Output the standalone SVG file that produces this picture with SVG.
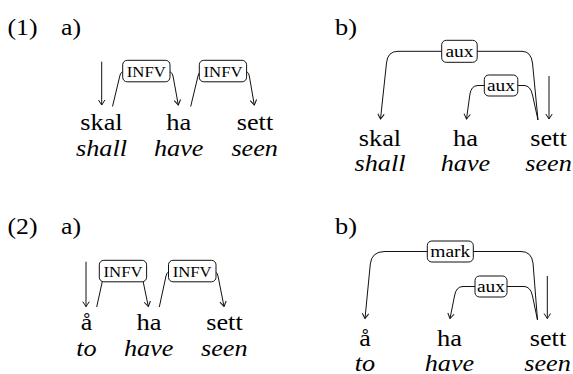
<svg xmlns="http://www.w3.org/2000/svg" width="573" height="374" viewBox="0 0 573 374" font-family="'Liberation Serif', 'Times New Roman', Tinos, Times, serif">
<defs>
<style>
.h, .w, .g, .lab, .lab2 { font-family: 'Liberation Serif', 'Times New Roman', Tinos, Times, serif; fill: #000; }
.h { font-size: 23px; }
.w { font-size: 23px; text-anchor: middle; }
.g { font-size: 23px; text-anchor: middle; font-style: italic; }
.lab { font-size: 15px; text-anchor: middle; }
.lab2 { font-size: 17.5px; text-anchor: middle; }
.e { fill: none; stroke: #111; stroke-width: 1; }
.box { fill: #fff; stroke: #111; stroke-width: 1; }
</style>
<marker id="ah" viewBox="-6 -4 7 8" refX="0" refY="0" markerWidth="7" markerHeight="8" markerUnits="userSpaceOnUse" orient="auto">
<path d="M-5,-3.2 Q-1.5,-1 0,0 Q-1.5,1 -5,3.2" fill="none" stroke="#111" stroke-width="1"/>
</marker>
</defs>

<g id="headings">
<text class="h" x="7.5" y="34.5" textLength="30" lengthAdjust="spacingAndGlyphs">(1)</text>
<text class="h" x="61" y="34.5" textLength="20" lengthAdjust="spacingAndGlyphs">a)</text>
<text class="h" x="335" y="34.5" textLength="22" lengthAdjust="spacingAndGlyphs">b)</text>
<text class="h" x="7.5" y="234" textLength="30" lengthAdjust="spacingAndGlyphs">(2)</text>
<text class="h" x="61" y="234" textLength="20" lengthAdjust="spacingAndGlyphs">a)</text>
<text class="h" x="335" y="234" textLength="22" lengthAdjust="spacingAndGlyphs">b)</text>
</g>

<!-- (1a) -->
<g id="n1a-skal"><text class="w" x="101.5" y="130" textLength="42.3" lengthAdjust="spacingAndGlyphs">skal</text><text class="g" x="101.5" y="155.5" textLength="51" lengthAdjust="spacingAndGlyphs">shall</text></g>
<g id="n1a-ha"><text class="w" x="178.7" y="130" textLength="25" lengthAdjust="spacingAndGlyphs">ha</text><text class="g" x="178.7" y="155.5" textLength="49.5" lengthAdjust="spacingAndGlyphs">have</text></g>
<g id="n1a-sett"><text class="w" x="255" y="130" textLength="36.4" lengthAdjust="spacingAndGlyphs">sett</text><text class="g" x="254.7" y="155.5" textLength="46.6" lengthAdjust="spacingAndGlyphs">seen</text></g>

<!-- (1b) -->
<g id="n1b-skal"><text class="w" x="380" y="145.5" textLength="42.3" lengthAdjust="spacingAndGlyphs">skal</text><text class="g" x="380" y="170.5" textLength="51" lengthAdjust="spacingAndGlyphs">shall</text></g>
<g id="n1b-ha"><text class="w" x="465.5" y="145.5" textLength="25" lengthAdjust="spacingAndGlyphs">ha</text><text class="g" x="465.5" y="170.5" textLength="49.5" lengthAdjust="spacingAndGlyphs">have</text></g>
<g id="n1b-sett"><text class="w" x="548.5" y="145.5" textLength="36.4" lengthAdjust="spacingAndGlyphs">sett</text><text class="g" x="548.5" y="170.5" textLength="46.6" lengthAdjust="spacingAndGlyphs">seen</text></g>

<!-- (2a) -->
<g id="n2a-aa"><text class="w" x="86.5" y="330" textLength="11.6" lengthAdjust="spacingAndGlyphs">å</text><text class="g" x="86.5" y="355.5" textLength="20.4" lengthAdjust="spacingAndGlyphs">to</text></g>
<g id="n2a-ha"><text class="w" x="149" y="330" textLength="25" lengthAdjust="spacingAndGlyphs">ha</text><text class="g" x="148.7" y="355.5" textLength="49.5" lengthAdjust="spacingAndGlyphs">have</text></g>
<g id="n2a-sett"><text class="w" x="224.5" y="330" textLength="36.4" lengthAdjust="spacingAndGlyphs">sett</text><text class="g" x="224.3" y="355.5" textLength="46.6" lengthAdjust="spacingAndGlyphs">seen</text></g>

<!-- (2b) -->
<g id="n2b-aa"><text class="w" x="365" y="345.5" textLength="11.6" lengthAdjust="spacingAndGlyphs">å</text><text class="g" x="365" y="370.5" textLength="20.4" lengthAdjust="spacingAndGlyphs">to</text></g>
<g id="n2b-ha"><text class="w" x="449.5" y="345.5" textLength="25" lengthAdjust="spacingAndGlyphs">ha</text><text class="g" x="449.5" y="370.5" textLength="49.5" lengthAdjust="spacingAndGlyphs">have</text></g>
<g id="n2b-sett"><text class="w" x="548" y="345.5" textLength="36.4" lengthAdjust="spacingAndGlyphs">sett</text><text class="g" x="547.5" y="370.5" textLength="46.6" lengthAdjust="spacingAndGlyphs">seen</text></g>

<g id="connectors">
<!-- 1a -->
<path class="e" marker-end="url(#ah)" d="M101.7,61.7 V105"/>
<path class="e" marker-end="url(#ah)" d="M112.5,106.5 L119.8,76 Q120.8,71.3 124.5,71.3 H168 Q171.8,71.3 173,76 L178.3,105"/>
<path class="e" marker-end="url(#ah)" d="M190.7,106.5 L198,76 Q199,71.3 202.5,71.3 H244.5 Q248.3,71.3 249.3,76 L254.3,105"/>
<!-- 1b -->
<path class="e" marker-end="url(#ah)" d="M549,76 V119"/>
<path class="e" marker-end="url(#ah)" d="M538,120 L532.5,63 Q531,51.3 522,51.3 H398 Q387.5,51.3 386.5,63 L380.5,119"/>
<path class="e" marker-end="url(#ah)" d="M538,120 L532.5,95 Q530.5,85.5 524,85.5 H478 Q471,85.5 469.8,95 L466.5,119"/>
<!-- 2a -->
<path class="e" marker-end="url(#ah)" d="M86,261.7 V306.7"/>
<path class="e" marker-end="url(#ah)" d="M96.7,307 L103.5,276 Q104.5,271.3 108.5,271.3 H137 Q141,271.3 142,276 L148.3,306.5"/>
<path class="e" marker-end="url(#ah)" d="M159.3,307 L166,276 Q167,271.3 171,271.3 H213 Q217,271.3 218,276 L224,306.5"/>
<!-- 2b -->
<path class="e" marker-end="url(#ah)" d="M547.3,276 V318.5"/>
<path class="e" marker-end="url(#ah)" d="M537.5,320 L533,263 Q531.5,251.5 521,251.5 H385 Q371.5,251.5 370.3,264 L365,318.5"/>
<path class="e" marker-end="url(#ah)" d="M537.5,320 L532.5,296 Q530.5,286.5 524,286.5 H463 Q456,286.5 454.5,296 L450,318.5"/>

<g id="lab-1a-1"><rect class="box" x="122.7" y="60.3" width="47.3" height="21.5" rx="4.5"/><text class="lab" x="146.3" y="76.7" textLength="39" lengthAdjust="spacingAndGlyphs">INFV</text></g>
<g id="lab-1a-2"><rect class="box" x="199.3" y="60.3" width="47.3" height="21.5" rx="4.5"/><text class="lab" x="223" y="76.7" textLength="39" lengthAdjust="spacingAndGlyphs">INFV</text></g>
<g id="lab-1b-1"><rect class="box" x="441.7" y="40.3" width="35.5" height="22" rx="4.5"/><text class="lab2" x="459.5" y="56.5" textLength="28" lengthAdjust="spacingAndGlyphs">aux</text></g>
<g id="lab-1b-2"><rect class="box" x="484.3" y="75" width="33.5" height="21" rx="4.5"/><text class="lab2" x="501" y="90.5" textLength="28" lengthAdjust="spacingAndGlyphs">aux</text></g>
<g id="lab-2a-1"><rect class="box" x="99.3" y="260.3" width="47.3" height="21.5" rx="4.5"/><text class="lab" x="123" y="276.7" textLength="39" lengthAdjust="spacingAndGlyphs">INFV</text></g>
<g id="lab-2a-2"><rect class="box" x="168.5" y="260.3" width="47.5" height="21.5" rx="4.5"/><text class="lab" x="192.2" y="276.7" textLength="39" lengthAdjust="spacingAndGlyphs">INFV</text></g>
<g id="lab-2b-1"><rect class="box" x="427.3" y="241" width="46" height="21" rx="4.5"/><text class="lab2" x="450.3" y="256.7" textLength="40" lengthAdjust="spacingAndGlyphs">mark</text></g>
<g id="lab-2b-2"><rect class="box" x="475" y="276" width="32" height="21" rx="4.5"/><text class="lab2" x="491" y="291.5" textLength="28" lengthAdjust="spacingAndGlyphs">aux</text></g>
</g>
</svg>
